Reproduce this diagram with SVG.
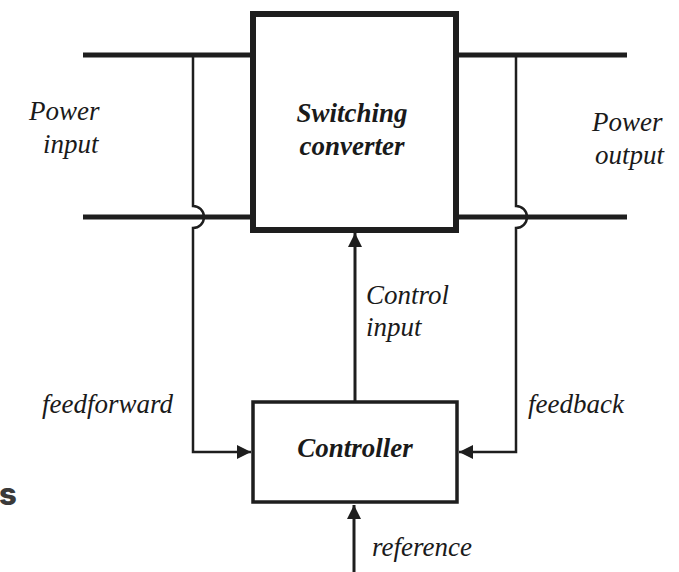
<svg xmlns="http://www.w3.org/2000/svg" width="679" height="572" viewBox="0 0 679 572">
<defs>
<style>
.t{font-family:"Liberation Serif","Times New Roman",serif;font-style:italic;font-size:27px;fill:#1a1a1a}
.b{font-weight:bold}
.box{fill:#fff;stroke:#1e1e1e}
.w{stroke:#1e1e1e;fill:none}
</style>
<marker id="ah" viewBox="0 0 10 10" refX="10" refY="5" markerWidth="18" markerHeight="14" markerUnits="userSpaceOnUse" orient="auto">
<path d="M0,0 L10,5 L0,10 Z" fill="#1e1e1e"/>
</marker>
</defs>
<rect width="679" height="572" fill="#fff"/>
<g id="connectors">
<line class="w" x1="83" y1="55" x2="253" y2="55" stroke-width="5"/>
<line class="w" x1="83" y1="217" x2="253" y2="217" stroke-width="5"/>
<line class="w" x1="456" y1="55" x2="627" y2="55" stroke-width="5"/>
<line class="w" x1="456" y1="217" x2="627" y2="217" stroke-width="5"/>
<path class="w" stroke-width="2.5" d="M193,55 V206 A11,11 0 0 1 193,228 V452 H251" marker-end="url(#ah)"/>
<path class="w" stroke-width="2.5" d="M516,55 V206 A11,11 0 0 1 516,228 V452 H459" marker-end="url(#ah)"/>
<line class="w" x1="355" y1="401" x2="355" y2="233" stroke-width="3" marker-end="url(#ah)"/>
<line class="w" x1="354" y1="572" x2="354" y2="505" stroke-width="3" marker-end="url(#ah)"/>
</g>
<g id="converter">
<rect class="box" x="253" y="14" width="203" height="216" stroke-width="6"/>
<text class="t b" x="352" y="122" text-anchor="middle">Switching</text>
<text class="t b" x="352" y="155" text-anchor="middle">converter</text>
</g>
<g id="controller">
<rect class="box" x="253" y="402" width="204" height="100" stroke-width="3.5"/>
<text class="t b" x="355" y="457" text-anchor="middle">Controller</text>
</g>
<g id="labels">
<text class="t" x="29" y="120">Power</text>
<text class="t" x="43" y="153">input</text>
<text class="t" x="592" y="131">Power</text>
<text class="t" x="595" y="164">output</text>
<text class="t" x="366" y="304">Control</text>
<text class="t" x="366" y="336">input</text>
<text class="t" x="42" y="413">feedforward</text>
<text class="t" x="528" y="413">feedback</text>
<text class="t" x="372" y="556">reference</text>
</g>
<text x="-1" y="505" font-family="Inter,'Noto Sans',sans-serif" font-weight="800" font-size="31" fill="#3a3a3a">s</text>
</svg>
